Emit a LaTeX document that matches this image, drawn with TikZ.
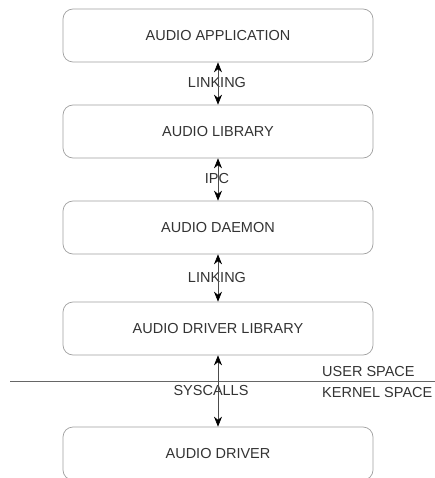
\documentclass[tikz,border=0pt]{standalone}
\usepackage{fontspec}
\setmainfont{Liberation Sans}
\usetikzlibrary{arrows.meta}
\definecolor{txt}{HTML}{333333}
\definecolor{edge}{HTML}{A0A0A0}
\begin{document}
\begin{tikzpicture}[x=1pt,y=-1pt,
  layer/.style={draw=edge,line width=0.7pt,rounded corners=10pt,minimum width=310pt,minimum height=53pt,inner sep=0pt,text=txt,font=\fontsize{14.5}{17}\selectfont},
  link/.style={draw=black!70,line width=0.6pt,{Stealth[length=10pt,width=8pt,black]}-{Stealth[length=10pt,width=8pt,black]}},
  lbl/.style={text=txt,font=\fontsize{14.5}{17}\selectfont,inner sep=0pt}]
\useasboundingbox (0,0) rectangle (435,478);
\node[layer] (app) at (218,35.5) {AUDIO APPLICATION};
\node[layer] (lib) at (218,131.5) {AUDIO LIBRARY};
\node[layer] (dmn) at (218,227.5) {AUDIO DAEMON};
\node[layer] (drl) at (218,328.5) {AUDIO DRIVER LIBRARY};
\node[layer] (drv) at (218,453.5) {AUDIO DRIVER};
\coordinate (sl) at (10,381.5);
\coordinate (sr) at (435,381.5);
\draw[draw=black!60,line width=0.8pt] (sl) -- (sr);
\node[lbl] (l1) at (217,83) {LINKING};
\node[lbl] (l2) at (217,179) {IPC};
\node[lbl] (l3) at (217,278) {LINKING};
\node[lbl] (l4) at (211,391) {SYSCALLS};
\node[lbl,anchor=west] (us) at (322,372) {USER SPACE};
\node[lbl,anchor=west] (ks) at (322,393) {KERNEL SPACE};
\draw[link] (app.south) -- (lib.north);
\draw[link] (lib.south) -- (dmn.north);
\draw[link] (dmn.south) -- (drl.north);
\draw[link] (drl.south) -- (drv.north);
\end{tikzpicture}
\end{document}
